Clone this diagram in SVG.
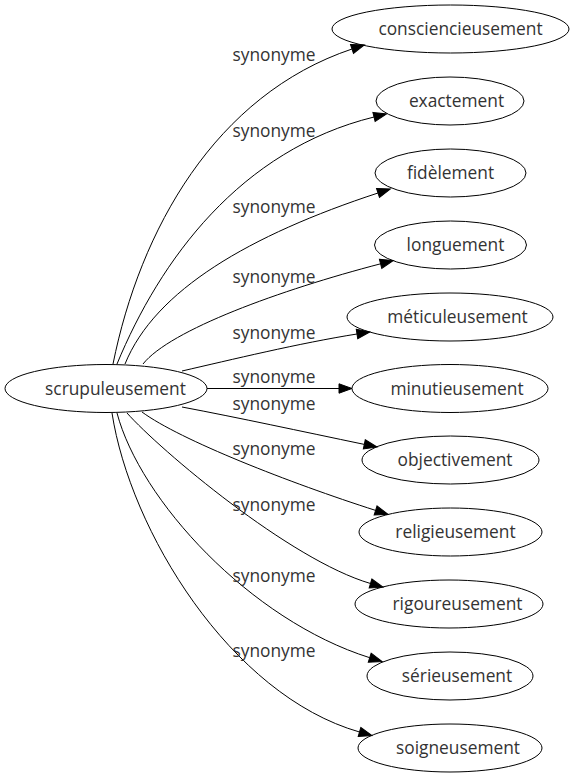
<svg xmlns="http://www.w3.org/2000/svg" width="573" height="779" viewBox="0 0 573 779">
<defs>
<style>
.node ellipse{fill:none;stroke:#000;stroke-width:1}
.node text{font-family:"Open Sans","Liberation Sans",sans-serif;font-size:17.33px;fill:#333;text-anchor:middle}
.edge path{fill:none;stroke:#000;stroke-width:1}
.lbl{font-family:"Open Sans","Liberation Sans",sans-serif;font-size:17.33px;fill:#333;text-anchor:middle}
</style>
<marker id="arr" markerUnits="userSpaceOnUse" markerWidth="14" markerHeight="10" refX="0" refY="4.7" orient="auto" overflow="visible">
<path d="M0,0 L13,4.7 L0,9.4 Z" fill="#000" stroke="#000" stroke-width="1"/>
</marker>
</defs>
<rect width="573" height="779" fill="#fff"/>
<g id="edges">
<g class="edge"><path d="M113,364 C140,230 215,95 352,49" marker-end="url(#arr)"/><text class="lbl" x="274" y="61">synonyme</text></g>
<g class="edge"><path d="M117,364 C160,260 240,150 374,117" marker-end="url(#arr)"/><text class="lbl" x="274" y="136.5">synonyme</text></g>
<g class="edge"><path d="M125,364 C155,290 250,235 378,193" marker-end="url(#arr)"/><text class="lbl" x="274" y="212.5">synonyme</text></g>
<g class="edge"><path d="M143,364 C170,330 280,290 380.6,263.8" marker-end="url(#arr)"/><text class="lbl" x="274" y="282.5">synonyme</text></g>
<g class="edge"><path d="M182,371 C230,360 300,343 357,334" marker-end="url(#arr)"/><text class="lbl" x="274" y="339">synonyme</text></g>
<g class="edge"><path d="M207,388.5 L339,388.5" marker-end="url(#arr)"/><text class="lbl" x="274" y="382.5">synonyme</text></g>
<g class="edge"><path d="M182,407 C240,418 300,431 364.3,444.4" marker-end="url(#arr)"/><text class="lbl" x="274" y="409.5">synonyme</text></g>
<g class="edge"><path d="M142,412 C180,440 290,483 375.6,510.4" marker-end="url(#arr)"/><text class="lbl" x="274" y="454.5">synonyme</text></g>
<g class="edge"><path d="M127,413 C160,450 290,560 370.5,583.5" marker-end="url(#arr)"/><text class="lbl" x="274" y="510.5">synonyme</text></g>
<g class="edge"><path d="M117,413 C140,500 250,620 369.7,657.7" marker-end="url(#arr)"/><text class="lbl" x="274" y="581.5">synonyme</text></g>
<g class="edge"><path d="M112,413 C130,530 230,695 359.5,732" marker-end="url(#arr)"/><text class="lbl" x="274" y="656.5">synonyme</text></g>
</g>
<g id="n_scrupuleusement" class="node"><ellipse cx="106" cy="388.5" rx="101" ry="24"/><text x="115.5" y="394.5">scrupuleusement</text></g>
<g id="n_consciencieusement" class="node"><ellipse cx="450.5" cy="29" rx="118.5" ry="24"/><text x="460.5" y="35">consciencieusement</text></g>
<g id="n_exactement" class="node"><ellipse cx="450" cy="101" rx="74" ry="24"/><text x="456.5" y="107">exactement</text></g>
<g id="n_fidelement" class="node"><ellipse cx="450.5" cy="173" rx="75.5" ry="24"/><text x="450.5" y="179">fidèlement</text></g>
<g id="n_longuement" class="node"><ellipse cx="450.5" cy="245" rx="76" ry="24"/><text x="455.5" y="251">longuement</text></g>
<g id="n_meticuleusement" class="node"><ellipse cx="450" cy="317" rx="103" ry="24"/><text x="457.5" y="323">méticuleusement</text></g>
<g id="n_minutieusement" class="node"><ellipse cx="450" cy="388.5" rx="98" ry="24"/><text x="457" y="394.5">minutieusement</text></g>
<g id="n_objectivement" class="node"><ellipse cx="450.5" cy="460" rx="88.5" ry="24"/><text x="455" y="466">objectivement</text></g>
<g id="n_religieusement" class="node"><ellipse cx="450.5" cy="532" rx="91.5" ry="24"/><text x="455.5" y="538">religieusement</text></g>
<g id="n_rigoureusement" class="node"><ellipse cx="449" cy="604" rx="94" ry="24"/><text x="457.5" y="610">rigoureusement</text></g>
<g id="n_serieusement" class="node"><ellipse cx="450" cy="676" rx="83" ry="24"/><text x="457" y="682">sérieusement</text></g>
<g id="n_soigneusement" class="node"><ellipse cx="450" cy="748" rx="92" ry="24"/><text x="458" y="754">soigneusement</text></g>
</svg>
